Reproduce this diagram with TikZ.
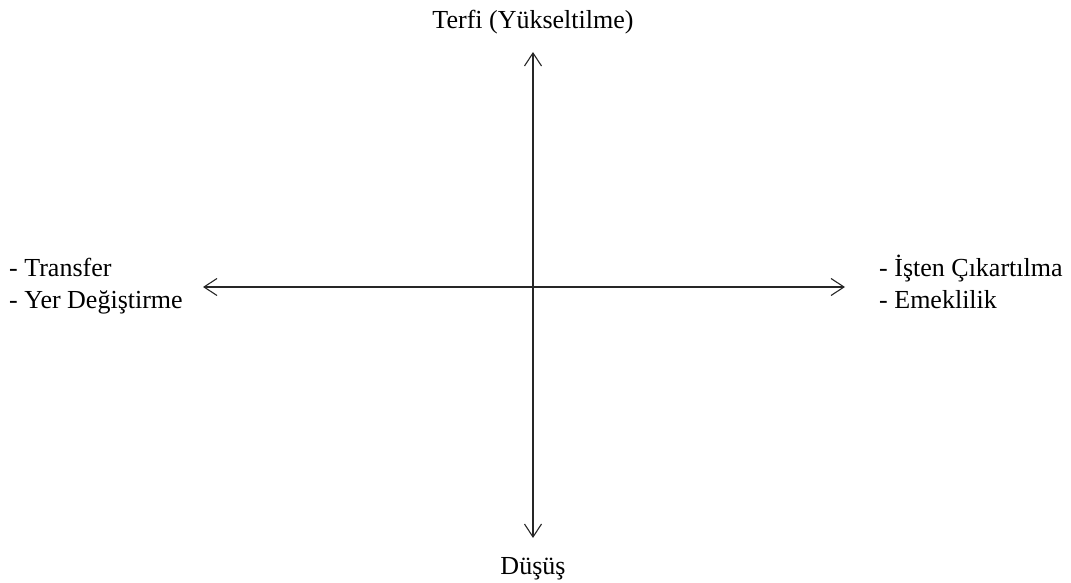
\documentclass[tikz,border=0pt]{standalone}
\usepackage{fontspec}
\setmainfont{Liberation Serif}
\usetikzlibrary{arrows.meta,positioning}

\begin{document}
\begin{tikzpicture}[
  x=1pt,y=-1pt,
  label/.style={font=\fontsize{26}{32}\selectfont,inner sep=0pt,align=left},
  arrow/.style={{Straight Barb[length=13pt,width=17pt]}-{Straight Barb[length=13pt,width=17pt]},line width=1.1pt,black!85}
]
\useasboundingbox (0,0) rectangle (1071,583);
% axis ends
\coordinate (up) at (533,52);
\coordinate (down) at (533,538);
\coordinate (west) at (203,287);
\coordinate (east) at (845,287);
\draw[arrow] (down) -- (up);
\draw[arrow] (west) -- (east);
% labels
\node[label,above=18pt of up] (terfi) {Terfi (Yükseltilme)};
\node[label,below=19pt of down] (dusus) {Düşüş};
\node[label,anchor=north west] (yatay) at (9,255) {\vphantom{İ}- Transfer\\- Yer Değiştirme};
\node[label,anchor=north west] (cikis) at (879,255) {\vphantom{İ}- İşten Çıkartılma\\- Emeklilik};
\end{tikzpicture}
\end{document}
